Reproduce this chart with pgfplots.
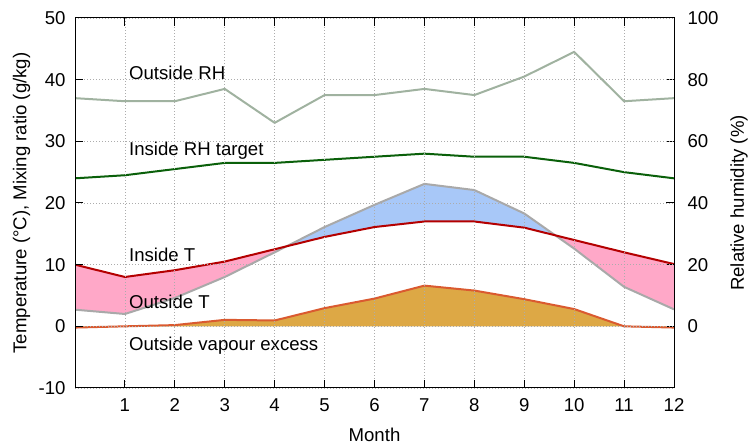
\documentclass[border=0pt]{standalone}
\usepackage{fontspec}
\setmainfont{Liberation Sans}
\usepackage{pgfplots}
\pgfplotsset{compat=1.18}
\usepgfplotslibrary{fillbetween}
\definecolor{rhcol}{HTML}{A0B2A0}
\definecolor{tgtcol}{HTML}{0A600A}
\definecolor{inTcol}{HTML}{B40000}
\definecolor{outTcol}{HTML}{A9A9A9}
\definecolor{vapcol}{HTML}{DA5A30}
\definecolor{vapfill}{HTML}{DDA845}
\definecolor{pinkfill}{HTML}{FFA8C8}
\definecolor{bluefill}{HTML}{A8C8F8}
\begin{document}
\begin{tikzpicture}[font=\fontsize{18.6}{22}\selectfont]
\begin{axis}[name=main, scale only axis, width=599pt, height=370pt,
  xmin=0, xmax=12, ymin=-10, ymax=50,
  xtick={1,...,12}, ytick={-10,0,...,50},
  xtick pos=both, ytick pos=left,
  tick align=inside, major tick length=8pt,
  grid=major, grid style={dash pattern=on 1pt off 2pt, gray!65, line width=0.8pt},
  axis line style={line width=1pt}, tick style={line width=1pt, black},
  axis on top,
  /pgf/number format/assume math mode=true,
  yticklabel style={xshift=-6pt},
  xticklabel style={yshift=-7pt},
  xlabel={Month},
  ylabel={Temperature (°C), Mixing ratio (g/kg)},
  every axis x label/.style={at={(axis description cs:0.5,-0.127)}, anchor=center},
  every axis y label/.style={at={(axis description cs:-0.089,0.5)}, rotate=90, anchor=center},
]
\addplot[name path=insideT, draw=none, forget plot] table {
x y
0 10
1 8
2 9.1
3 10.5
4 12.5
5 14.5
6 16.1
7 17
8 17
9 16
10 14
11 12
12 10.1
};
\addplot[name path=outsideT, draw=none, forget plot] table {
x y
0 2.7
1 2
2 4.6
3 8
4 12
5 16.1
6 19.7
7 23.1
8 22.1
9 18.3
10 12.6
11 6.4
12 2.75
};
\addplot[name path=vapour, draw=none, forget plot] table {
x y
0 -0.2
1 0
2 0.2
3 1.05
4 0.95
5 2.95
6 4.5
7 6.6
8 5.8
9 4.4
10 2.8
11 0
12 -0.2
};
\addplot[name path=zero, draw=none, forget plot] coordinates {(0,0) (12,0)};
\addplot[pinkfill] fill between[of=insideT and outsideT, split,
  every segment no 1/.style={bluefill}];
\addplot[vapfill] fill between[of=vapour and zero];
\addplot[outTcol, line width=2pt] table {
x y
0 2.7
1 2
2 4.6
3 8
4 12
5 16.1
6 19.7
7 23.1
8 22.1
9 18.3
10 12.6
11 6.4
12 2.75
};
\addplot[inTcol, line width=2pt] table {
x y
0 10
1 8
2 9.1
3 10.5
4 12.5
5 14.5
6 16.1
7 17
8 17
9 16
10 14
11 12
12 10.1
};
\addplot[vapcol, line width=2pt] table {
x y
0 -0.2
1 0
2 0.2
3 1.05
4 0.95
5 2.95
6 4.5
7 6.6
8 5.8
9 4.4
10 2.8
11 0
12 -0.2
};
\node[anchor=west, inner sep=0] at (axis cs:1.08,41.1) {Outside RH};
\node[anchor=west, inner sep=0] at (axis cs:1.08,28.45) {Inside RH target};
\node[anchor=west, inner sep=0] at (axis cs:1.08,11.55) {Inside T};
\node[anchor=west, inner sep=0] at (axis cs:1.08,4.0) {Outside T};
\node[anchor=west, inner sep=0] at (axis cs:1.08,-3.1) {Outside vapour excess};
\end{axis}
\begin{axis}[scale only axis, width=599pt, height=370pt,
  xmin=0, xmax=12, ymin=-20, ymax=100,
  axis x line=none, axis y line*=right,
  ytick={0,20,...,100}, ytick pos=right,
  tick align=inside, major tick length=8pt,
  axis line style={line width=1pt}, tick style={line width=1pt, black},
  /pgf/number format/assume math mode=true,
  yticklabel style={xshift=10pt},
  ylabel={Relative humidity (\%)},
  every axis y label/.style={at={(axis description cs:1.1085,0.5)}, rotate=90, anchor=center},
]
\addplot[rhcol, line width=2pt] table {
x y
0 74
1 73
2 73
3 77
4 66
5 75
6 75
7 77
8 75
9 81
10 89
11 73
12 74
};
\addplot[tgtcol, line width=2pt] table {
x y
0 48
1 49
2 51
3 53
4 53
5 54
6 55
7 56
8 55
9 55
10 53
11 50
12 48
};
\end{axis}
\pgfresetboundingbox
\path[use as bounding box] ([xshift=-75pt,yshift=-57pt]main.south west) rectangle ([xshift=75pt,yshift=18pt]main.north east);
\end{tikzpicture}
\end{document}
